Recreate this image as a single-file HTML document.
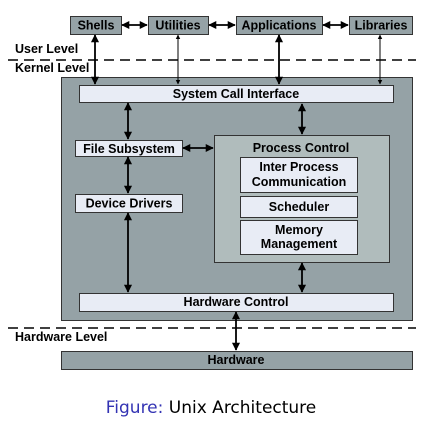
<!DOCTYPE html><html><head><style>body{margin:0;background:#fff;width:446px;height:427px;overflow:hidden}</style></head><body>
<svg width="446" height="427" xmlns="http://www.w3.org/2000/svg" font-family="Liberation Sans, sans-serif" font-weight="bold" font-size="12.5">
<defs><marker id="a" viewBox="0 0 10 10" refX="9" refY="5" markerWidth="4.5" markerHeight="5.5" orient="auto-start-reverse"><path d="M0,0L10,5L0,10z" fill="#000"/></marker></defs>
<g stroke="#333" stroke-width="1">
<rect x="70.5" y="16.5" width="51" height="18" fill="#95a2a6"/>
<rect x="148.5" y="16.5" width="60" height="18" fill="#95a2a6"/>
<rect x="236.5" y="16.5" width="86" height="18" fill="#95a2a6"/>
<rect x="349.5" y="16.5" width="63" height="18" fill="#95a2a6"/>
<rect x="61.5" y="77.5" width="351" height="243" fill="#95a2a6"/>
<rect x="79.5" y="85.5" width="314" height="17" fill="#e8ecf5"/>
<rect x="75.5" y="140.5" width="107" height="16" fill="#e8ecf5"/>
<rect x="75.5" y="194.5" width="107" height="18" fill="#e8ecf5"/>
<rect x="214.5" y="135.5" width="175" height="127" fill="#b0bcbc"/>
<rect x="240.5" y="157.5" width="117" height="35" fill="#e8ecf5"/>
<rect x="240.5" y="196.5" width="117" height="21" fill="#e8ecf5"/>
<rect x="240.5" y="220.5" width="117" height="34" fill="#e8ecf5"/>
<rect x="79.5" y="293.5" width="314" height="18" fill="#e8ecf5"/>
<rect x="61.5" y="351.5" width="351" height="18" fill="#95a2a6"/>
</g>
<g stroke="#000" stroke-width="1.5" stroke-dasharray="10,6"><line x1="8" y1="60" x2="416" y2="60"/><line x1="8" y1="328" x2="416" y2="328"/></g>
<g stroke="#000" stroke-width="1.8" marker-start="url(#a)" marker-end="url(#a)">
<line x1="95" y1="35" x2="95" y2="84"/>
<line x1="178" y1="35" x2="178" y2="84" stroke-width="1"/>
<line x1="279" y1="35" x2="279" y2="84"/>
<line x1="380" y1="35" x2="380" y2="84" stroke-width="1"/>
<line x1="122" y1="25" x2="147" y2="25"/>
<line x1="209" y1="25" x2="235" y2="25"/>
<line x1="323" y1="25" x2="348" y2="25"/>
<line x1="128" y1="103" x2="128" y2="139"/>
<line x1="302" y1="104" x2="302" y2="134"/>
<line x1="183" y1="148" x2="213" y2="148"/>
<line x1="128" y1="157" x2="128" y2="193"/>
<line x1="128" y1="213" x2="128" y2="292"/>
<line x1="302" y1="263" x2="302" y2="292"/>
<line x1="236" y1="312" x2="236" y2="350"/>
</g>
<g text-anchor="middle">
<text x="96" y="29.5">Shells</text><text x="178" y="29.5">Utilities</text><text x="279" y="29.5">Applications</text><text x="381" y="29.5">Libraries</text>
<text x="236" y="98">System Call Interface</text>
<text x="129" y="153">File Subsystem</text>
<text x="129" y="207.5">Device Drivers</text>
<text x="301" y="152">Process Control</text>
<text x="299" y="171">Inter Process</text><text x="299" y="186">Communication</text>
<text x="299" y="211">Scheduler</text>
<text x="299" y="234">Memory</text><text x="299" y="248">Management</text>
<text x="236" y="306">Hardware Control</text>
<text x="236" y="364">Hardware</text>
</g>
<text x="15" y="53">User Level</text><text x="15" y="72">Kernel Level</text><text x="15" y="341">Hardware Level</text>
<text x="211" y="413" text-anchor="middle" font-weight="normal" font-size="17" font-family="DejaVu Sans, sans-serif"><tspan fill="#3333b3">Figure:</tspan> Unix Architecture</text>
</svg></body></html>
